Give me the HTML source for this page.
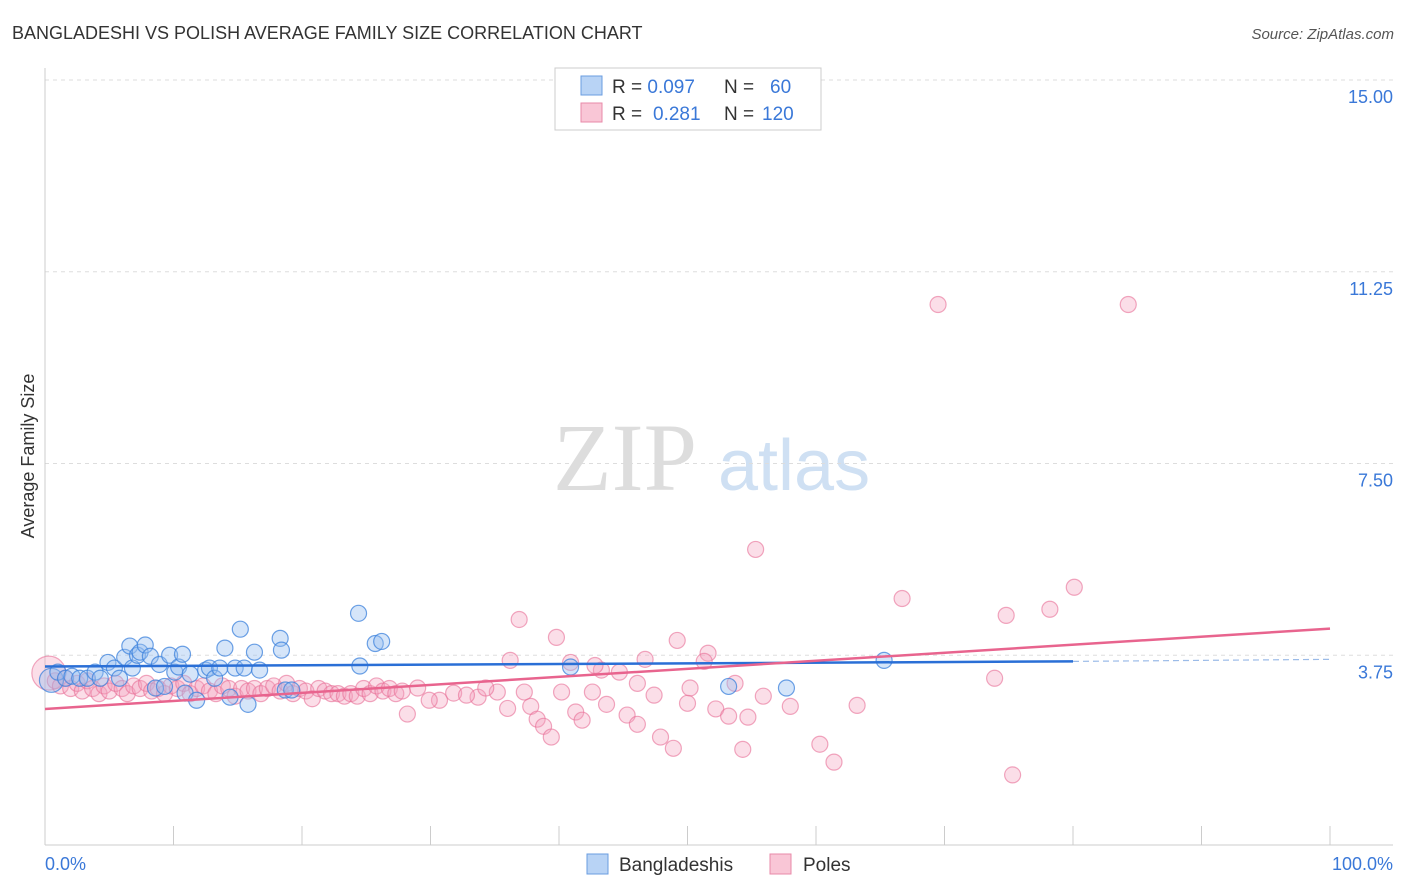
<!DOCTYPE html>
<html><head><meta charset="utf-8"><style>
body{margin:0;background:#fff;font-family:"Liberation Sans",sans-serif}
svg{display:block}
</style></head><body>
<svg id="chart" width="1406" height="892" xmlns="http://www.w3.org/2000/svg" font-family="Liberation Sans, sans-serif">
<text x="12" y="39" font-size="18" fill="#333">BANGLADESHI VS POLISH AVERAGE FAMILY SIZE CORRELATION CHART</text>
<text x="1394" y="39" font-size="15" fill="#555" font-style="italic" text-anchor="end">Source: ZipAtlas.com</text>
<text x="553" y="490" font-size="96" fill="#ddd" font-family="Liberation Serif, serif">ZIP</text>
<text x="718" y="490" font-size="72" fill="#cfe0f3">atlas</text>
<g id="grid"></g>
<line x1="45" y1="68" x2="45" y2="845" stroke="#ccc"/>
<line x1="45" y1="845" x2="1393" y2="845" stroke="#ccc"/>
<g id="xticks"></g>
<g id="yticks"></g>
<text transform="translate(34,456) rotate(-90)" font-size="18" fill="#333" text-anchor="middle">Average Family Size</text>
<text x="45" y="870" font-size="18" fill="#3a78d8">0.0%</text>
<text x="1393" y="870" font-size="18" fill="#3a78d8" text-anchor="end">100.0%</text>
<g id="pink"></g>
<g id="blue"></g>
<g id="trends"></g>
<g>
<rect x="555" y="68" width="266" height="62" fill="#fff" stroke="#ccc"/>
<rect x="581" y="76" width="21" height="19" fill="#b8d3f5" stroke="#6a9de0"/>
<rect x="581" y="103" width="21" height="19" fill="#f9c6d6" stroke="#e88aa8"/>
<text x="612" y="93" font-size="19" fill="#333">R = <tspan fill="#3a78d8">0.097</tspan><tspan x="724">N = </tspan><tspan x="770" fill="#3a78d8">60</tspan></text>
<text x="612" y="120" font-size="19" fill="#333">R = <tspan x="653" fill="#3a78d8">0.281</tspan><tspan x="724">N = </tspan><tspan x="762" fill="#3a78d8">120</tspan></text>
</g>
<g>
<rect x="587" y="854" width="21" height="20" fill="#b8d3f5" stroke="#6a9de0"/>
<text x="619" y="871" font-size="19" fill="#333">Bangladeshis</text>
<rect x="770" y="854" width="21" height="20" fill="#f9c6d6" stroke="#e88aa8"/>
<text x="803" y="871" font-size="19" fill="#333">Poles</text>
</g>
</svg>
<script>
const yTickVals=[15,11.25,7.5,3.75];
const yTickLabels=["15.00","11.25","7.50","3.75"];
const xTickVals=[0,10,20,30,40,50,60,70,80,90,100];
const blueX=[0.5,1.0,1.6,2.1,2.7,3.3,3.9,4.3,4.9,5.4,5.8,6.2,6.6,6.8,7.2,7.4,7.8,8.2,8.6,8.9,9.3,9.7,10.1,10.4,10.7,10.9,11.3,11.8,12.5,12.8,13.2,13.6,14.0,14.4,14.8,15.2,15.5,15.8,16.3,16.7,18.3,18.4,18.7,19.2,24.4,24.5,25.7,26.2,40.9,53.2,57.7,65.3];
const blueY=[3.26,3.42,3.30,3.34,3.30,3.30,3.42,3.30,3.61,3.50,3.30,3.71,3.93,3.50,3.75,3.81,3.95,3.73,3.11,3.57,3.14,3.75,3.42,3.52,3.77,3.01,3.38,2.87,3.46,3.50,3.30,3.50,3.89,2.93,3.50,4.26,3.50,2.79,3.81,3.46,4.08,3.85,3.07,3.07,4.57,3.54,3.98,4.02,3.52,3.14,3.11,3.65];
const pinkX=[69.5,84.3,55.3,66.7,80.1,78.2,74.8,36.9,39.8,49.2,51.6,51.3,36.2,40.9,43.3,44.7,46.7,53.7,50.2,55.9,47.4,50.0,52.2,53.2,54.7,58.0,63.2,73.9,28.2,30.7,33.7,35.2,36.0,37.8,38.3,38.8,39.4,41.3,41.8,43.7,45.3,46.1,47.9,48.9,54.3,60.3,61.4,75.3,40.2,42.6,31.8,32.8,34.3,37.3,29.0,29.9,42.8,46.1,
0.3,0.8,1.2,1.6,2.0,2.5,2.9,3.3,3.7,4.2,4.6,5.0,5.5,6.0,6.4,6.9,7.4,7.9,8.3,8.8,9.3,9.8,10.3,10.8,11.3,11.8,12.3,12.8,13.3,13.8,14.3,14.8,15.3,15.8,16.3,16.8,17.3,17.8,18.3,18.8,19.3,19.8,20.3,20.8,21.3,21.8,22.3,22.8,23.3,23.8,24.3,24.8,25.3,25.8,26.3,26.8,27.3,27.8];
const pinkY=[10.61,10.61,5.82,4.86,5.08,4.65,4.53,4.45,4.10,4.04,3.79,3.63,3.65,3.61,3.46,3.42,3.67,3.20,3.11,2.95,2.97,2.81,2.70,2.56,2.54,2.75,2.77,3.30,2.60,2.87,2.93,3.03,2.71,2.75,2.50,2.36,2.15,2.64,2.48,2.79,2.58,2.40,2.15,1.93,1.91,2.01,1.66,1.41,3.03,3.03,3.01,2.97,3.11,3.03,3.11,2.87,3.55,3.20,
3.4,3.25,3.15,3.3,3.1,3.2,3.05,3.25,3.1,3.0,3.15,3.05,3.2,3.1,3.0,3.15,3.1,3.2,3.05,3.1,3.0,3.15,3.1,3.2,3.0,3.1,3.15,3.05,3.0,3.15,3.1,2.95,3.1,3.05,3.1,3.0,3.1,3.15,3.05,3.2,3.0,3.1,3.05,2.9,3.1,3.05,3.0,3.0,2.95,3.0,2.95,3.1,3.0,3.15,3.05,3.1,3.0,3.05];
const blueTrend=[[0,3.53],[80,3.63],[100,3.67]];
const pinkTrend=[[0,2.7],[100,4.27]];
const X=v=>45+v*12.85;
const Y=v=>847-v*51.13;
const NS="http://www.w3.org/2000/svg";
function mk(tag,attrs,parent){const e=document.createElementNS(NS,tag);for(const k in attrs)e.setAttribute(k,attrs[k]);parent.appendChild(e);return e;}
const grid=document.getElementById('grid'),yt=document.getElementById('yticks'),xt=document.getElementById('xticks');
yTickVals.forEach((v,i)=>{
 const l=mk('line',{x1:45,x2:1393,y1:Y(v),y2:Y(v),stroke:'#ddd','stroke-dasharray':'4,4'},grid);
 
 
 const t=mk('text',{x:1393,y:Y(v)+23,'font-size':18,fill:'#3a78d8','text-anchor':'end'},yt);
 t.textContent=yTickLabels[i];
 
 
});
xTickVals.forEach(v=>{
 const l=mk('line',{x1:X(v),x2:X(v),y1:826,y2:845,stroke:'#ccc'},xt);
 
 
});
const pg=document.getElementById('pink');
pinkX.forEach((x,i)=>{
 const c=mk('circle',{cx:X(x),cy:Y(pinkY[i]),r:(i===58?17:8),fill:'rgba(244,160,188,0.35)',stroke:'rgba(232,110,150,0.6)','stroke-width':1.2},pg);
 
 
});
const bg=document.getElementById('blue');
blueX.forEach((x,i)=>{
 const c=mk('circle',{cx:X(x),cy:Y(blueY[i]),r:(i===0?12:8),fill:'rgba(150,190,240,0.4)',stroke:'rgba(60,130,220,0.75)','stroke-width':1.2},bg);
 
 
});
const tg=document.getElementById('trends');
let l1=mk('line',{x1:X(blueTrend[0][0]),y1:Y(blueTrend[0][1]),x2:X(blueTrend[1][0]),y2:Y(blueTrend[1][1]),stroke:'#2a6fd6','stroke-width':2.5},tg);


let l2=mk('line',{x1:X(blueTrend[1][0]),y1:Y(blueTrend[1][1]),x2:X(blueTrend[2][0]),y2:Y(blueTrend[2][1]),stroke:'#9bbbe8','stroke-width':1.2,'stroke-dasharray':'6,4'},tg);


let l3=mk('line',{x1:X(pinkTrend[0][0]),y1:Y(pinkTrend[0][1]),x2:X(pinkTrend[1][0]),y2:Y(pinkTrend[1][1]),stroke:'#e8648e','stroke-width':2.5},tg);


</script>
</body></html>
